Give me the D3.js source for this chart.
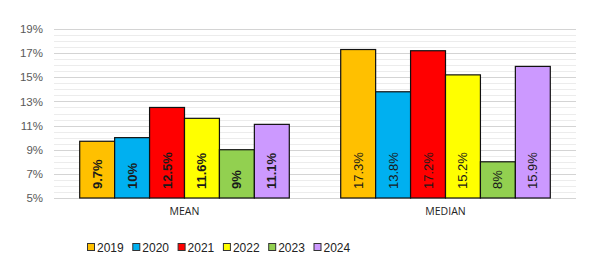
<!DOCTYPE html>
<html>
<head>
<meta charset="utf-8">
<script src="https://cdn.jsdelivr.net/npm/d3@7"></script>
<style>
  body { margin: 0; background: #fff; }
  svg { display: block; }
</style>
</head>
<body>
<div id="chart"></div>
<script>
var categories = ["MEAN", "MEDIAN"]
var years = ["2019", "2020", "2021", "2022", "2023", "2024"]
var meanValues = [9.7, 10, 12.5, 11.6, 9, 11.1]
var medianValues = [17.3, 13.8, 17.2, 15.2, 8, 15.9]
var labelTexts = [
    ["9.7%", "10%", "12.5%", "11.6%", "9%", "11.1%"],
    ["17.3%", "13.8%", "17.2%", "15.2%", "8%", "15.9%"]
]
var yTicks = [5, 7, 9, 11, 13, 15, 17, 19]
var colors = ["#FFC000", "#00B0F0", "#FF0000", "#FFFF00", "#92D050", "#CC99FF"]

var width = 591
var height = 273
var margin = { left: 54, top: 29, right: 15, bottom: 75 }
var innerW = width - margin.left - margin.right
var innerH = height - margin.top - margin.bottom

var svg = d3.select("#chart").append("svg")
    .attr("width", width)
    .attr("height", height)

var g = svg.append("g")
    .attr("transform", "translate(" + margin.left + "," + margin.top + ")")

var y = d3.scaleLinear().domain([5, 19]).range([innerH, 0])
var x0 = d3.scaleBand().domain(categories).range([0, innerW]).paddingInner(0.197).paddingOuter(0.0985)
var x1 = d3.scaleBand().domain(years).range([0, x0.bandwidth()])

// minor gridlines every 0.5%
g.append("g").selectAll("line")
    .data(d3.range(5, 19.01, 0.5))
    .enter().append("line")
    .attr("x1", 0).attr("x2", innerW)
    .attr("y1", d => Math.round(y(d)) + 0.5)
    .attr("y2", d => Math.round(y(d)) + 0.5)
    .attr("stroke", d => (d - 5) % 2 === 0 ? "#d4d4d4" : "#ececec")
    .attr("stroke-width", 1)

// y axis labels
var yAxis = g.append("g")
    .call(d3.axisLeft(y).tickValues(yTicks).tickFormat(d => d + "%").tickSize(0).tickPadding(11))
yAxis.select(".domain").remove()
yAxis.selectAll("text")
    .attr("fill", "#595959")
    .style("font-family", "Liberation Sans, Arial, sans-serif")
    .style("font-size", "11.5px")

var data = [meanValues, medianValues]

var groups = g.selectAll(".grp")
    .data(categories)
    .enter().append("g")
    .attr("class", "grp")
    .attr("transform", d => "translate(" + x0(d) + ",0)")

groups.selectAll("rect")
    .data((c, ci) => years.map((yr, i) => ({ yr: yr, v: data[ci][i], i: i })))
    .enter().append("rect")
    .attr("x", d => x1(d.yr))
    .attr("y", d => y(d.v))
    .attr("width", x1.bandwidth())
    .attr("height", d => innerH - y(d.v))
    .attr("fill", d => colors[d.i])
    .attr("stroke", "#111")
    .attr("stroke-width", 1.2)

groups.selectAll("text.lbl")
    .data((c, ci) => years.map((yr, i) => ({ yr: yr, t: labelTexts[ci][i], ci: ci })))
    .enter().append("text")
    .attr("class", "lbl")
    .attr("transform", d => "translate(" + (x1(d.yr) + x1.bandwidth() / 2 + 4.5) + "," + (innerH - 9) + ") rotate(-90)")
    .attr("text-anchor", "start")
    .attr("fill", "#1a1a1a")
    .style("font-family", "Liberation Sans, Arial, sans-serif")
    .style("font-size", "13px")
    .style("font-weight", d => d.ci === 0 ? "bold" : "normal")
    .text(d => d.t)

// category labels
var xAxis = g.append("g")
    .attr("transform", "translate(0," + innerH + ")")
    .call(d3.axisBottom(x0).tickSize(0).tickPadding(10))
xAxis.select(".domain").remove()
xAxis.selectAll("text")
    .attr("fill", "#222")
    .style("font-family", "Open Sans, Liberation Sans, sans-serif")
    .style("font-size", "10.5px")

// legend
var legend = svg.append("g").attr("transform", "translate(87,248)")
var items = legend.selectAll("g")
    .data(years)
    .enter().append("g")
    .attr("transform", (d, i) => "translate(" + (i * 45.3) + ",0)")
items.append("rect")
    .attr("x", 0.5).attr("y", -4.5)
    .attr("width", 7).attr("height", 7)
    .attr("fill", (d, i) => colors[i])
    .attr("stroke", "#333")
    .attr("stroke-width", 1)
items.append("text")
    .attr("x", 10).attr("y", 4)
    .attr("fill", "#222")
    .style("font-family", "Liberation Sans, Arial, sans-serif")
    .style("font-size", "12px")
    .text(d => d)
</script>
</body>
</html>
